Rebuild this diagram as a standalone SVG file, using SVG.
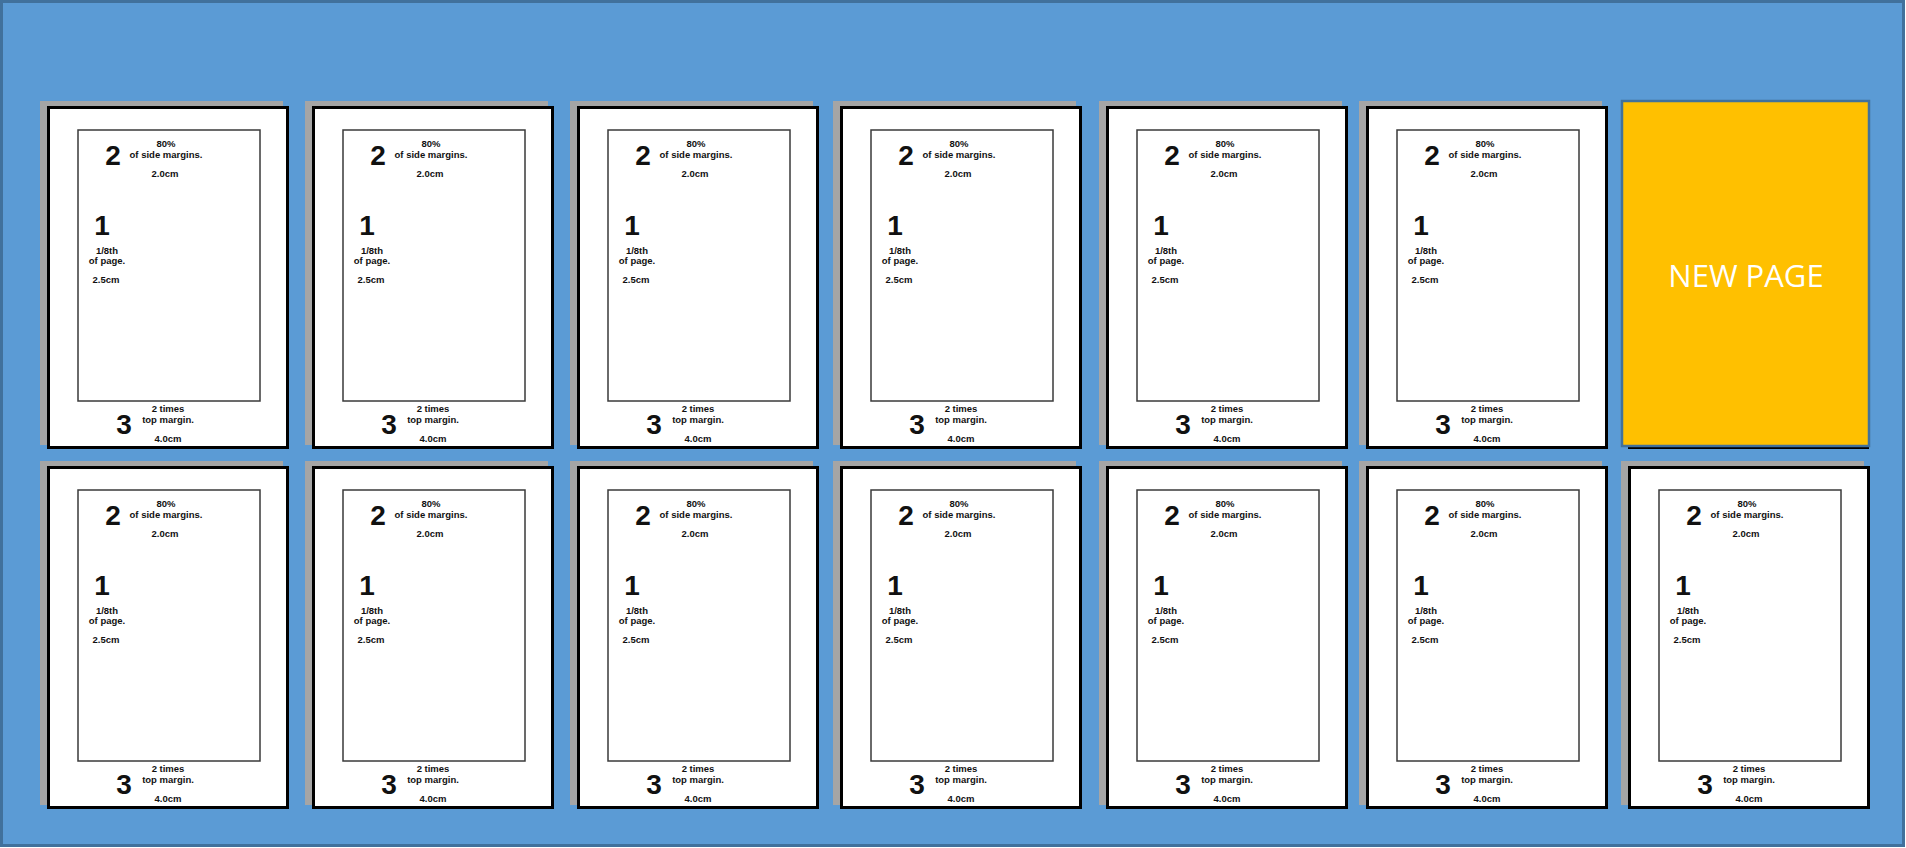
<svg xmlns="http://www.w3.org/2000/svg" width="1906" height="848" viewBox="0 0 1906 848">
<style>
.bg{fill:#5B9BD5;stroke:#41719C;stroke-width:3}
.shadow{fill:#A5A5A5}
.page{fill:#FFFFFF;stroke:#000000;stroke-width:3}
.inner{fill:none;stroke:#3A3A3A;stroke-width:1.5}
.s{font-family:"Liberation Sans",Arial,sans-serif;font-weight:bold;font-size:9.5px;text-anchor:middle;fill:#111}
.b{font-family:"Liberation Sans",Arial,sans-serif;font-weight:bold;font-size:28px;text-anchor:middle;fill:#111}
.np{fill:#FFC000;stroke:#41719C;stroke-width:2.5}
.npt{font-family:"Open Sans","Liberation Sans",sans-serif;font-size:31px;text-anchor:middle;fill:#FFFFFF}
</style>
<rect class="bg" x="1.5" y="1.5" width="1902" height="844"/>
<g id="connectors"></g>
<g id="page-r1c1" transform="translate(47,106)"><rect class="shadow" x="-7" y="-5" width="243" height="344"/><rect class="page" x="1.5" y="1.5" width="239" height="340"/><rect class="inner" x="31" y="24" width="182" height="271"/><text class="b" x="66" y="59">2</text><text class="s" x="119" y="41">80%</text><text class="s" x="119" y="52">of side margins.</text><text class="s" x="118" y="71">2.0cm</text><text class="b" x="55" y="129">1</text><text class="s" x="60" y="148">1/8th</text><text class="s" x="60" y="158">of page.</text><text class="s" x="59" y="177">2.5cm</text><text class="s" x="121" y="306">2 times</text><text class="s" x="121" y="317">top margin.</text><text class="b" x="77" y="328">3</text><text class="s" x="121" y="336">4.0cm</text></g>
<g id="page-r1c2" transform="translate(312,106)"><rect class="shadow" x="-7" y="-5" width="243" height="344"/><rect class="page" x="1.5" y="1.5" width="239" height="340"/><rect class="inner" x="31" y="24" width="182" height="271"/><text class="b" x="66" y="59">2</text><text class="s" x="119" y="41">80%</text><text class="s" x="119" y="52">of side margins.</text><text class="s" x="118" y="71">2.0cm</text><text class="b" x="55" y="129">1</text><text class="s" x="60" y="148">1/8th</text><text class="s" x="60" y="158">of page.</text><text class="s" x="59" y="177">2.5cm</text><text class="s" x="121" y="306">2 times</text><text class="s" x="121" y="317">top margin.</text><text class="b" x="77" y="328">3</text><text class="s" x="121" y="336">4.0cm</text></g>
<g id="page-r1c3" transform="translate(577,106)"><rect class="shadow" x="-7" y="-5" width="243" height="344"/><rect class="page" x="1.5" y="1.5" width="239" height="340"/><rect class="inner" x="31" y="24" width="182" height="271"/><text class="b" x="66" y="59">2</text><text class="s" x="119" y="41">80%</text><text class="s" x="119" y="52">of side margins.</text><text class="s" x="118" y="71">2.0cm</text><text class="b" x="55" y="129">1</text><text class="s" x="60" y="148">1/8th</text><text class="s" x="60" y="158">of page.</text><text class="s" x="59" y="177">2.5cm</text><text class="s" x="121" y="306">2 times</text><text class="s" x="121" y="317">top margin.</text><text class="b" x="77" y="328">3</text><text class="s" x="121" y="336">4.0cm</text></g>
<g id="page-r1c4" transform="translate(840,106)"><rect class="shadow" x="-7" y="-5" width="243" height="344"/><rect class="page" x="1.5" y="1.5" width="239" height="340"/><rect class="inner" x="31" y="24" width="182" height="271"/><text class="b" x="66" y="59">2</text><text class="s" x="119" y="41">80%</text><text class="s" x="119" y="52">of side margins.</text><text class="s" x="118" y="71">2.0cm</text><text class="b" x="55" y="129">1</text><text class="s" x="60" y="148">1/8th</text><text class="s" x="60" y="158">of page.</text><text class="s" x="59" y="177">2.5cm</text><text class="s" x="121" y="306">2 times</text><text class="s" x="121" y="317">top margin.</text><text class="b" x="77" y="328">3</text><text class="s" x="121" y="336">4.0cm</text></g>
<g id="page-r1c5" transform="translate(1106,106)"><rect class="shadow" x="-7" y="-5" width="243" height="344"/><rect class="page" x="1.5" y="1.5" width="239" height="340"/><rect class="inner" x="31" y="24" width="182" height="271"/><text class="b" x="66" y="59">2</text><text class="s" x="119" y="41">80%</text><text class="s" x="119" y="52">of side margins.</text><text class="s" x="118" y="71">2.0cm</text><text class="b" x="55" y="129">1</text><text class="s" x="60" y="148">1/8th</text><text class="s" x="60" y="158">of page.</text><text class="s" x="59" y="177">2.5cm</text><text class="s" x="121" y="306">2 times</text><text class="s" x="121" y="317">top margin.</text><text class="b" x="77" y="328">3</text><text class="s" x="121" y="336">4.0cm</text></g>
<g id="page-r1c6" transform="translate(1366,106)"><rect class="shadow" x="-7" y="-5" width="243" height="344"/><rect class="page" x="1.5" y="1.5" width="239" height="340"/><rect class="inner" x="31" y="24" width="182" height="271"/><text class="b" x="66" y="59">2</text><text class="s" x="119" y="41">80%</text><text class="s" x="119" y="52">of side margins.</text><text class="s" x="118" y="71">2.0cm</text><text class="b" x="55" y="129">1</text><text class="s" x="60" y="148">1/8th</text><text class="s" x="60" y="158">of page.</text><text class="s" x="59" y="177">2.5cm</text><text class="s" x="121" y="306">2 times</text><text class="s" x="121" y="317">top margin.</text><text class="b" x="77" y="328">3</text><text class="s" x="121" y="336">4.0cm</text></g>
<g id="new-page"><line x1="1628" y1="448" x2="1869" y2="448" stroke="#000" stroke-width="2"/><rect class="np" x="1622" y="101" width="247" height="345"/><text class="npt" x="1746" y="287">NEW PAGE</text></g>
<g id="page-r2c1" transform="translate(47,466)"><rect class="shadow" x="-7" y="-5" width="243" height="344"/><rect class="page" x="1.5" y="1.5" width="239" height="340"/><rect class="inner" x="31" y="24" width="182" height="271"/><text class="b" x="66" y="59">2</text><text class="s" x="119" y="41">80%</text><text class="s" x="119" y="52">of side margins.</text><text class="s" x="118" y="71">2.0cm</text><text class="b" x="55" y="129">1</text><text class="s" x="60" y="148">1/8th</text><text class="s" x="60" y="158">of page.</text><text class="s" x="59" y="177">2.5cm</text><text class="s" x="121" y="306">2 times</text><text class="s" x="121" y="317">top margin.</text><text class="b" x="77" y="328">3</text><text class="s" x="121" y="336">4.0cm</text></g>
<g id="page-r2c2" transform="translate(312,466)"><rect class="shadow" x="-7" y="-5" width="243" height="344"/><rect class="page" x="1.5" y="1.5" width="239" height="340"/><rect class="inner" x="31" y="24" width="182" height="271"/><text class="b" x="66" y="59">2</text><text class="s" x="119" y="41">80%</text><text class="s" x="119" y="52">of side margins.</text><text class="s" x="118" y="71">2.0cm</text><text class="b" x="55" y="129">1</text><text class="s" x="60" y="148">1/8th</text><text class="s" x="60" y="158">of page.</text><text class="s" x="59" y="177">2.5cm</text><text class="s" x="121" y="306">2 times</text><text class="s" x="121" y="317">top margin.</text><text class="b" x="77" y="328">3</text><text class="s" x="121" y="336">4.0cm</text></g>
<g id="page-r2c3" transform="translate(577,466)"><rect class="shadow" x="-7" y="-5" width="243" height="344"/><rect class="page" x="1.5" y="1.5" width="239" height="340"/><rect class="inner" x="31" y="24" width="182" height="271"/><text class="b" x="66" y="59">2</text><text class="s" x="119" y="41">80%</text><text class="s" x="119" y="52">of side margins.</text><text class="s" x="118" y="71">2.0cm</text><text class="b" x="55" y="129">1</text><text class="s" x="60" y="148">1/8th</text><text class="s" x="60" y="158">of page.</text><text class="s" x="59" y="177">2.5cm</text><text class="s" x="121" y="306">2 times</text><text class="s" x="121" y="317">top margin.</text><text class="b" x="77" y="328">3</text><text class="s" x="121" y="336">4.0cm</text></g>
<g id="page-r2c4" transform="translate(840,466)"><rect class="shadow" x="-7" y="-5" width="243" height="344"/><rect class="page" x="1.5" y="1.5" width="239" height="340"/><rect class="inner" x="31" y="24" width="182" height="271"/><text class="b" x="66" y="59">2</text><text class="s" x="119" y="41">80%</text><text class="s" x="119" y="52">of side margins.</text><text class="s" x="118" y="71">2.0cm</text><text class="b" x="55" y="129">1</text><text class="s" x="60" y="148">1/8th</text><text class="s" x="60" y="158">of page.</text><text class="s" x="59" y="177">2.5cm</text><text class="s" x="121" y="306">2 times</text><text class="s" x="121" y="317">top margin.</text><text class="b" x="77" y="328">3</text><text class="s" x="121" y="336">4.0cm</text></g>
<g id="page-r2c5" transform="translate(1106,466)"><rect class="shadow" x="-7" y="-5" width="243" height="344"/><rect class="page" x="1.5" y="1.5" width="239" height="340"/><rect class="inner" x="31" y="24" width="182" height="271"/><text class="b" x="66" y="59">2</text><text class="s" x="119" y="41">80%</text><text class="s" x="119" y="52">of side margins.</text><text class="s" x="118" y="71">2.0cm</text><text class="b" x="55" y="129">1</text><text class="s" x="60" y="148">1/8th</text><text class="s" x="60" y="158">of page.</text><text class="s" x="59" y="177">2.5cm</text><text class="s" x="121" y="306">2 times</text><text class="s" x="121" y="317">top margin.</text><text class="b" x="77" y="328">3</text><text class="s" x="121" y="336">4.0cm</text></g>
<g id="page-r2c6" transform="translate(1366,466)"><rect class="shadow" x="-7" y="-5" width="243" height="344"/><rect class="page" x="1.5" y="1.5" width="239" height="340"/><rect class="inner" x="31" y="24" width="182" height="271"/><text class="b" x="66" y="59">2</text><text class="s" x="119" y="41">80%</text><text class="s" x="119" y="52">of side margins.</text><text class="s" x="118" y="71">2.0cm</text><text class="b" x="55" y="129">1</text><text class="s" x="60" y="148">1/8th</text><text class="s" x="60" y="158">of page.</text><text class="s" x="59" y="177">2.5cm</text><text class="s" x="121" y="306">2 times</text><text class="s" x="121" y="317">top margin.</text><text class="b" x="77" y="328">3</text><text class="s" x="121" y="336">4.0cm</text></g>
<g id="page-r2c7" transform="translate(1628,466)"><rect class="shadow" x="-7" y="-5" width="243" height="344"/><rect class="page" x="1.5" y="1.5" width="239" height="340"/><rect class="inner" x="31" y="24" width="182" height="271"/><text class="b" x="66" y="59">2</text><text class="s" x="119" y="41">80%</text><text class="s" x="119" y="52">of side margins.</text><text class="s" x="118" y="71">2.0cm</text><text class="b" x="55" y="129">1</text><text class="s" x="60" y="148">1/8th</text><text class="s" x="60" y="158">of page.</text><text class="s" x="59" y="177">2.5cm</text><text class="s" x="121" y="306">2 times</text><text class="s" x="121" y="317">top margin.</text><text class="b" x="77" y="328">3</text><text class="s" x="121" y="336">4.0cm</text></g>
</svg>
